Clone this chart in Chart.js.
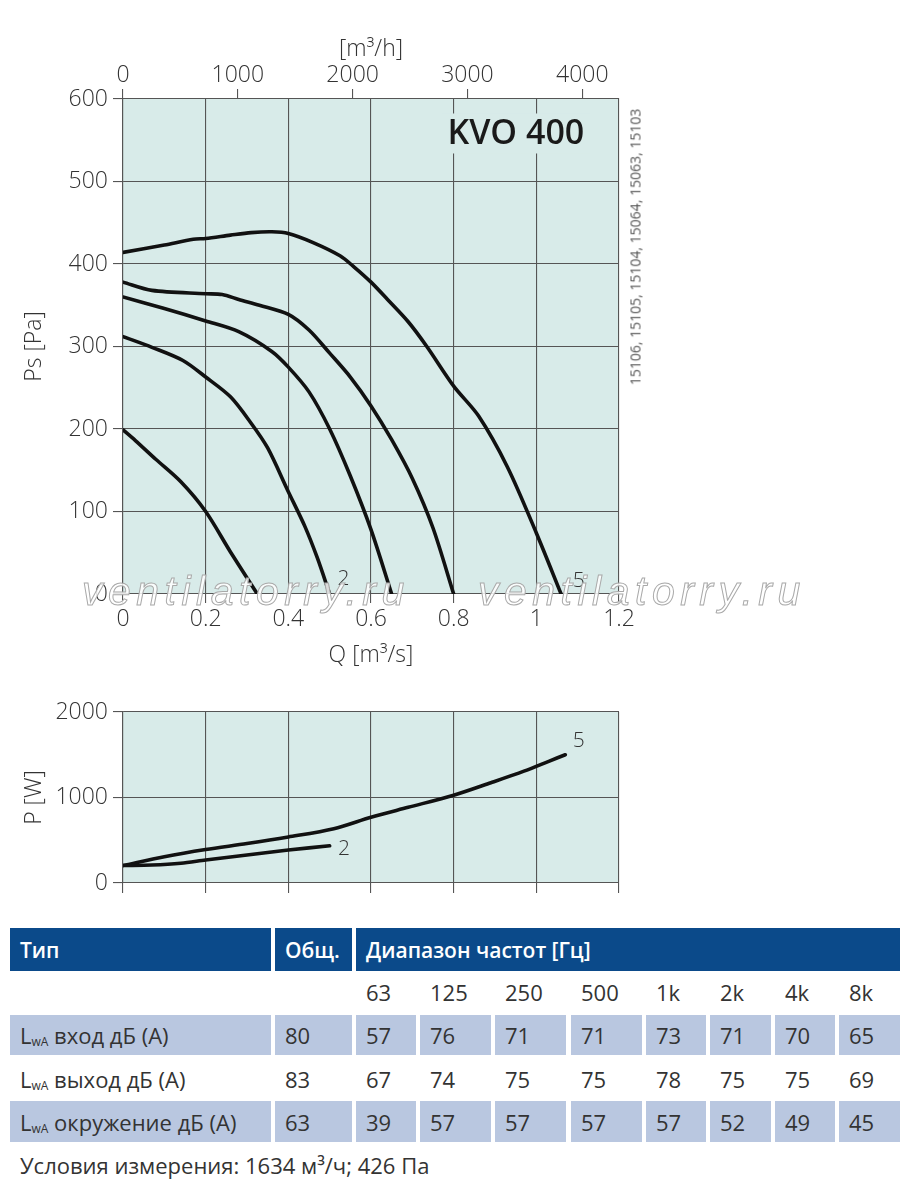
<!DOCTYPE html>
<html><head><meta charset="utf-8">
<script src="https://cdn.jsdelivr.net/npm/chart.js@4.4.1/dist/chart.umd.min.js"></script>
<style>
html,body{margin:0;padding:0;background:#fff}
body{width:900px;height:1181px;position:relative;overflow:hidden;font-family:'Open Sans',sans-serif;color:#333}
#c1{position:absolute;left:0;top:0}
#c2{position:absolute;left:0;top:690px}
.cell{position:absolute;box-sizing:border-box;padding-left:10px;display:flex;align-items:center;font-size:22px;color:#333;white-space:nowrap}
.hd{background:#0b4a8a;color:#fff;font-weight:600;font-size:21px}
.bg{background:#b9c7e0}
.wm{position:absolute;font-family:'Liberation Sans',sans-serif;font-style:italic;font-size:41px;letter-spacing:5.5px;color:rgba(255,255,255,0.85);-webkit-text-stroke:1px #a9a9a9;line-height:40px;white-space:nowrap;pointer-events:none}
.side{position:absolute;font-size:14px;color:#555;white-space:nowrap;transform:translate(-50%,-50%) rotate(-90deg);left:635px;top:247px}
.sb{font-size:12px;position:relative;top:2px}
</style>
</head><body>
<canvas id="c1" width="900" height="680"></canvas>
<canvas id="c2" width="900" height="220"></canvas>
<div class="side">15106, 15105, 15104, 15064, 15063, 15103</div>
<div class="wm" style="left:82px;top:571px">ventilatorry.ru</div>
<div class="wm" style="left:478px;top:571px">ventilatorry.ru</div>
<div id="tbl"></div>
<script>
// ---------- data ----------
const modelName = 'KVO 400';
const q1 = [0, 0.03, 0.08, 0.14, 0.2, 0.26, 0.325];
const p1 = [199, 186, 163, 136, 100, 51, 0];
const q2 = [0, 0.07, 0.145, 0.2, 0.26, 0.31, 0.35, 0.4, 0.44, 0.47, 0.5];
const p2 = [312, 299, 283, 263, 239, 207, 177, 124, 82, 44, 0];
const q3 = [0, 0.1, 0.2, 0.28, 0.36, 0.4, 0.45, 0.5, 0.55, 0.6, 0.65];
const p3 = [360, 346, 331, 318, 294, 275, 245, 200, 143, 78, 0];
const q4 = [0, 0.07, 0.2, 0.24, 0.28, 0.33, 0.4, 0.45, 0.5, 0.55, 0.6, 0.65, 0.7, 0.75, 0.8];
const p4 = [378, 368, 364, 363, 357, 350, 339, 320, 292, 263, 228, 187, 140, 80, 0];
const q5 = [0, 0.1, 0.17, 0.2, 0.26, 0.31, 0.36, 0.4, 0.46, 0.525, 0.56, 0.6, 0.64, 0.69, 0.735, 0.8, 0.86, 0.93, 1.0, 1.06];
const p5 = [414, 423, 430, 431, 435, 438, 439, 437, 426, 410, 396, 378, 357, 330, 300, 252, 216, 154, 74, 0];
const psCurveLabels = ['2', '5'];
const psLabelQ = [0.519, 1.088];
const psLabelP = [18, 16];
const flowTicksM3h = [0, 1000, 2000, 3000, 4000];

const qW5 = [0, 0.1, 0.2, 0.3, 0.4, 0.51, 0.6, 0.69, 0.8, 0.89, 0.97, 1.03, 1.07];
const w5 = [204, 308, 392, 461, 538, 635, 769, 885, 1027, 1173, 1308, 1423, 1500];
const qW2 = [0, 0.07, 0.14, 0.2, 0.3, 0.4, 0.5];
const w2 = [204, 210, 231, 269, 327, 385, 435];
const wCurveLabels = ['2', '5'];
const wLabelQ = [0.52, 1.088];
const wLabelW = [400, 1660];

const headType = 'Тип', headTotal = 'Общ.', headRange = 'Диапазон частот [Гц]';
const freqBands = ['63', '125', '250', '500', '1k', '2k', '4k', '8k'];
const rowNames = ['вход дБ (A)', 'выход дБ (A)', 'окружение дБ (A)'];
const rowTotals = [80, 83, 63];
const rowInlet = [57, 76, 71, 71, 73, 71, 70, 65];
const rowOutlet = [67, 74, 75, 75, 78, 75, 75, 69];
const rowSurround = [39, 57, 57, 57, 57, 52, 49, 45];
const footNote = 'Условия измерения: 1634 м³/ч; 426 Па';

// ---------- helpers ----------
const FONT = "'Open Sans', sans-serif";
const TXT = '#333';
const GRID = '#555';
const pts = (xs, ys) => xs.map((x, i) => ({x, y: ys[i]}));
const curve = d => ({data: d, borderColor: '#111', borderWidth: 3.6, pointRadius: 0, tension: 0.3, fill: false,
  borderCapStyle: 'round', borderJoinStyle: 'round'});

const bgPlugin = {id: 'plotbg', beforeDraw(chart) {
  const {ctx, chartArea: a} = chart;
  ctx.save(); ctx.fillStyle = '#d8ebe9'; ctx.fillRect(a.left, a.top, a.right - a.left, a.bottom - a.top); ctx.restore();
}};
const labelPlugin = {id: 'curvelabels', afterDatasetsDraw(chart, args, opts) {
  const {ctx, scales} = chart;
  ctx.save(); ctx.fillStyle = TXT; ctx.font = "300 21px " + FONT; ctx.textAlign = 'left'; ctx.textBaseline = 'middle';
  opts.texts.forEach((t, i) => ctx.fillText(t, scales.x.getPixelForValue(opts.xs[i]), scales.y.getPixelForValue(opts.ys[i])));
  ctx.restore();
}};
const titlePlugin = {id: 'modeltitle', afterDatasetsDraw(chart, args, opts) {
  if (!opts.text) return;
  const {ctx, scales} = chart;
  const x = scales.x.getPixelForValue(0.785), y = scales.y.getPixelForValue(557);
  ctx.save(); ctx.font = "600 34px " + FONT;
  const w = ctx.measureText(opts.text).width;
  ctx.fillStyle = '#d8ebe9'; ctx.fillRect(x - 6, y - 21, w + 12, 40);
  ctx.fillStyle = '#1a1a1a'; ctx.textBaseline = 'middle'; ctx.fillText(opts.text, x, y);
  ctx.restore();
}};

const tickFont = {family: FONT, size: 23, weight: 300};
const fmtQ = v => String(Math.round(v * 10) / 10);

// ---------- chart 1: Ps ----------
new Chart(document.getElementById('c1'), {
  type: 'line',
  data: {datasets: [curve(pts(q1, p1)), curve(pts(q2, p2)), curve(pts(q3, p3)), curve(pts(q4, p4)), curve(pts(q5, p5))]},
  options: {
    responsive: false, animation: false, devicePixelRatio: 1,
    layout: {padding: {left: 0, right: 281, top: 0, bottom: 0}},
    plugins: {legend: {display: false}, tooltip: {enabled: false},
      curvelabels: {texts: psCurveLabels, xs: psLabelQ, ys: psLabelP},
      modeltitle: {text: modelName}},
    scales: {
      x: {type: 'linear', position: 'bottom', min: 0, max: 1.2,
        ticks: {stepSize: 0.2, font: tickFont, color: TXT, padding: 3, callback: fmtQ, maxRotation: 0},
        grid: {color: GRID, lineWidth: 1.1, tickLength: 9},
        border: {color: GRID, width: 1.1},
        title: {display: true, text: 'Q [m³/s]', font: tickFont, color: TXT, padding: {top: 0, bottom: 11}},
        afterFit(s) { s.height = 86; }},
      x2: {type: 'linear', position: 'top', min: 0, max: 4320,
        ticks: {font: tickFont, color: TXT, padding: 0, callback: v => String(v), maxRotation: 0, autoSkip: false},
        afterBuildTicks(s) { s.ticks = flowTicksM3h.map(v => ({value: v})); },
        grid: {drawOnChartArea: false, color: GRID, lineWidth: 1.1, tickLength: 10},
        border: {color: GRID, width: 1.1},
        title: {display: true, text: '[m³/h]', font: tickFont, color: TXT, padding: {top: 36, bottom: 0}},
        afterFit(s) { s.height = 99; }},
      y: {type: 'linear', position: 'left', min: 0, max: 600,
        ticks: {stepSize: 100, font: tickFont, color: TXT, padding: 5, callback: v => String(v)},
        grid: {color: GRID, lineWidth: 1.1, tickLength: 10},
        border: {color: GRID, width: 1.1},
        title: {display: true, text: 'Ps [Pa]', font: tickFont, color: TXT, padding: {top: 21, bottom: 0}},
        afterFit(s) { s.width = 123; }}
    }
  },
  plugins: [bgPlugin, labelPlugin, titlePlugin]
});

// ---------- chart 2: P ----------
new Chart(document.getElementById('c2'), {
  type: 'line',
  data: {datasets: [curve(pts(qW2, w2)), curve(pts(qW5, w5))]},
  options: {
    responsive: false, animation: false, devicePixelRatio: 1,
    layout: {padding: {left: 0, right: 281, top: 22, bottom: 0}},
    plugins: {legend: {display: false}, tooltip: {enabled: false},
      curvelabels: {texts: wCurveLabels, xs: wLabelQ, ys: wLabelW}},
    scales: {
      x: {type: 'linear', position: 'bottom', min: 0, max: 1.2,
        ticks: {stepSize: 0.2, font: tickFont, color: TXT, callback: () => ''},
        grid: {color: GRID, lineWidth: 1.1, tickLength: 10},
        border: {color: GRID, width: 1.1},
        afterFit(s) { s.height = 27; }},
      y: {type: 'linear', position: 'left', min: 0, max: 2000,
        ticks: {stepSize: 1000, font: tickFont, color: TXT, padding: 5, callback: v => String(v)},
        grid: {color: GRID, lineWidth: 1.1, tickLength: 10},
        border: {color: GRID, width: 1.1},
        title: {display: true, text: 'P [W]', font: tickFont, color: TXT, padding: {top: 21, bottom: 0}},
        afterFit(s) { s.width = 123; }}
    }
  },
  plugins: [bgPlugin, labelPlugin]
});

// ---------- table ----------
const cols = [[10, 271], [275, 352], [356, 416], [420, 491], [495, 566], [571, 642], [646, 706], [710, 771], [775, 835], [839, 900]];
const tbl = document.getElementById('tbl');
function cell(x0, x1, y0, y1, html, cls) {
  const d = document.createElement('div');
  d.className = 'cell ' + (cls || '');
  d.style.left = x0 + 'px'; d.style.width = (x1 - x0) + 'px';
  d.style.top = y0 + 'px'; d.style.height = (y1 - y0) + 'px';
  d.innerHTML = '<span>' + html + '</span>'; tbl.appendChild(d);
}
cell(cols[0][0], cols[0][1], 928, 971, headType, 'hd');
cell(cols[1][0], cols[1][1], 928, 971, headTotal, 'hd');
cell(cols[2][0], 900, 928, 971, headRange, 'hd');
freqBands.forEach((f, i) => cell(cols[i + 2][0], cols[i + 2][1], 972, 1012, f, ''));
const rowsY = [[1015, 1055, 'bg'], [1058, 1099, ''], [1101, 1142, 'bg']];
const rowVals = [rowInlet, rowOutlet, rowSurround];
rowNames.forEach((n, r) => {
  const [y0, y1, c] = rowsY[r];
  cell(cols[0][0], cols[0][1], y0, y1, 'L<span class="sb">wA</span> ' + n, c);
  cell(cols[1][0], cols[1][1], y0, y1, String(rowTotals[r]), c);
  rowVals[r].forEach((v, i) => cell(cols[i + 2][0], cols[i + 2][1], y0, y1, String(v), c));
});
cell(10, 600, 1145, 1185, footNote, '');
</script>
</body></html>
